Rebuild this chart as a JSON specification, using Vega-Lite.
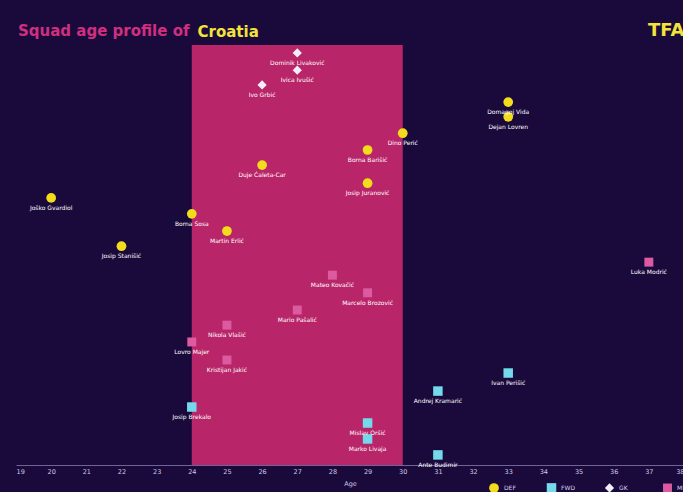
{
  "$schema": "https://vega.github.io/schema/vega-lite/v6.json",
  "width": 668,
  "height": 420,
  "autosize": {"type": "none"},
  "padding": {"left": 16, "top": 45, "right": 0, "bottom": 27},
  "background": "#1a0a3c",
  "config": {
    "view": {"stroke": null},
    "font": "DejaVu Sans"
  },
  "title": {
    "text": "Squad age profile of",
    "anchor": "start",
    "font": "DejaVu Sans",
    "fontSize": 15,
    "fontWeight": "bold",
    "color": "#cf2f7e",
    "offset": -18,
    "dx": 2
  },
  "datasets": {
    "zone": [{"start": 24, "end": 30}],
    "players": [
      {"name": "Joško Gvardiol", "age": 20, "mins": 63.6, "pos": "DEF"},
      {"name": "Josip Stanišić", "age": 22, "mins": 52.1, "pos": "DEF"},
      {"name": "Borna Sosa", "age": 24, "mins": 59.8, "pos": "DEF"},
      {"name": "Martin Erlić", "age": 25, "mins": 55.7, "pos": "DEF"},
      {"name": "Duje Ćaleta-Car", "age": 26, "mins": 71.4, "pos": "DEF"},
      {"name": "Borna Barišić", "age": 29, "mins": 75.0, "pos": "DEF"},
      {"name": "Josip Juranović", "age": 29, "mins": 67.1, "pos": "DEF"},
      {"name": "Dino Perić", "age": 30, "mins": 79.0, "pos": "DEF"},
      {"name": "Domagoj Vida", "age": 33, "mins": 86.4, "pos": "DEF"},
      {"name": "Dejan Lovren", "age": 33, "mins": 82.9, "pos": "DEF"},
      {"name": "Dominik Livaković", "age": 27, "mins": 98.1, "pos": "GK"},
      {"name": "Ivica Ivušić", "age": 27, "mins": 94.0, "pos": "GK"},
      {"name": "Ivo Grbić", "age": 26, "mins": 90.5, "pos": "GK"},
      {"name": "Mateo Kovačić", "age": 28, "mins": 45.2, "pos": "MID"},
      {"name": "Marcelo Brozović", "age": 29, "mins": 41.0, "pos": "MID"},
      {"name": "Mario Pašalić", "age": 27, "mins": 36.9, "pos": "MID"},
      {"name": "Nikola Vlašić", "age": 25, "mins": 33.3, "pos": "MID"},
      {"name": "Lovro Majer", "age": 24, "mins": 29.3, "pos": "MID"},
      {"name": "Kristijan Jakić", "age": 25, "mins": 25.0, "pos": "MID"},
      {"name": "Luka Modrić", "age": 37, "mins": 48.3, "pos": "MID"},
      {"name": "Josip Brekalo", "age": 24, "mins": 13.8, "pos": "FWD"},
      {"name": "Mislav Oršić", "age": 29, "mins": 10.0, "pos": "FWD"},
      {"name": "Marko Livaja", "age": 29, "mins": 6.2, "pos": "FWD"},
      {"name": "Andrej Kramarić", "age": 31, "mins": 17.6, "pos": "FWD"},
      {"name": "Ante Budimir", "age": 31, "mins": 2.4, "pos": "FWD"},
      {"name": "Ivan Perišić", "age": 33, "mins": 21.9, "pos": "FWD"}
    ]
  },
  "layer": [
    {
      "data": {"name": "zone"},
      "mark": {"type": "rect", "color": "#b82568"},
      "encoding": {
        "x": {"field": "start", "type": "quantitative", "scale": {"domain": [19, 38], "nice": false, "zero": false}, "axis": null},
        "x2": {"field": "end"}
      }
    },
    {
      "data": {"name": "players"},
      "mark": {"type": "point", "filled": true, "opacity": 1},
      "encoding": {
        "x": {
          "field": "age", "type": "quantitative",
          "scale": {"domain": [19, 38], "nice": false, "zero": false},
          "axis": {
            "orient": "bottom", "title": "Age", "values": [19,20,21,22,23,24,25,26,27,28,29,30,31,32,33,34,35,36,37,38],
            "grid": false, "ticks": false, "domainColor": "#6f6496", "domainWidth": 1,
            "labelColor": "#cfc8e6", "labelFontSize": 6.5, "labelPadding": 3, "labelFlush": true,
            "titleColor": "#cfc8e6", "titleFontSize": 6.5, "titleFontWeight": "normal", "titlePadding": 6
          }
        },
        "y": {
          "field": "mins", "type": "quantitative", "scale": {"domain": [0, 100], "nice": false},
          "axis": {"orient": "left", "labels": false, "ticks": false, "domain": false, "grid": false,
                   "title": "Croatia", "titleAngle": 0, "titleAlign": "left", "titleBaseline": "alphabetic",
                   "titleX": 181, "titleY": -9, "titleColor": "#f3e33b", "titleFontSize": 15,
                   "titleFont": "DejaVu Sans", "titleFontWeight": "bold"}
        },
        "color": {
          "field": "pos", "type": "nominal",
          "scale": {"domain": ["DEF", "FWD", "GK", "MID"], "range": ["#f3dc1c", "#74d9ea", "#f2eef8", "#dc5aa0"]},
          "legend": {
            "orient": "none", "legendX": 472, "legendY": 437, "direction": "horizontal", "title": null,
            "symbolType": "square", "symbolSize": 30, "labelColor": "#d8d0ee", "labelFontSize": 6,
            "columnPadding": 28, "gridAlign": "all"
          }
        },
        "shape": {
          "field": "pos", "type": "nominal",
          "scale": {"domain": ["DEF", "FWD", "GK", "MID"], "range": ["circle", "square", "diamond", "square"]},
          "legend": null
        },
        "size": {
          "field": "pos", "type": "nominal",
          "scale": {"domain": ["DEF", "FWD", "GK", "MID"], "range": [95, 80, 70, 28]},
          "legend": null
        }
      }
    },
    {
      "data": {"name": "players"},
      "mark": {"type": "text", "dy": 10, "fontSize": 6, "color": "#ffffff", "baseline": "middle"},
      "encoding": {
        "x": {
          "field": "age", "type": "quantitative",
          "axis": {"orient": "top", "labels": false, "ticks": false, "domain": false, "grid": false,
                   "title": "TFA", "titleAnchor": "end", "titleColor": "#f3e33b", "titleFontSize": 18,
                   "titleFont": "DejaVu Sans", "titleFontWeight": "bold", "titlePadding": 6}
        },
        "y": {"field": "mins", "type": "quantitative"},
        "text": {"field": "name"}
      }
    }
  ]
}
